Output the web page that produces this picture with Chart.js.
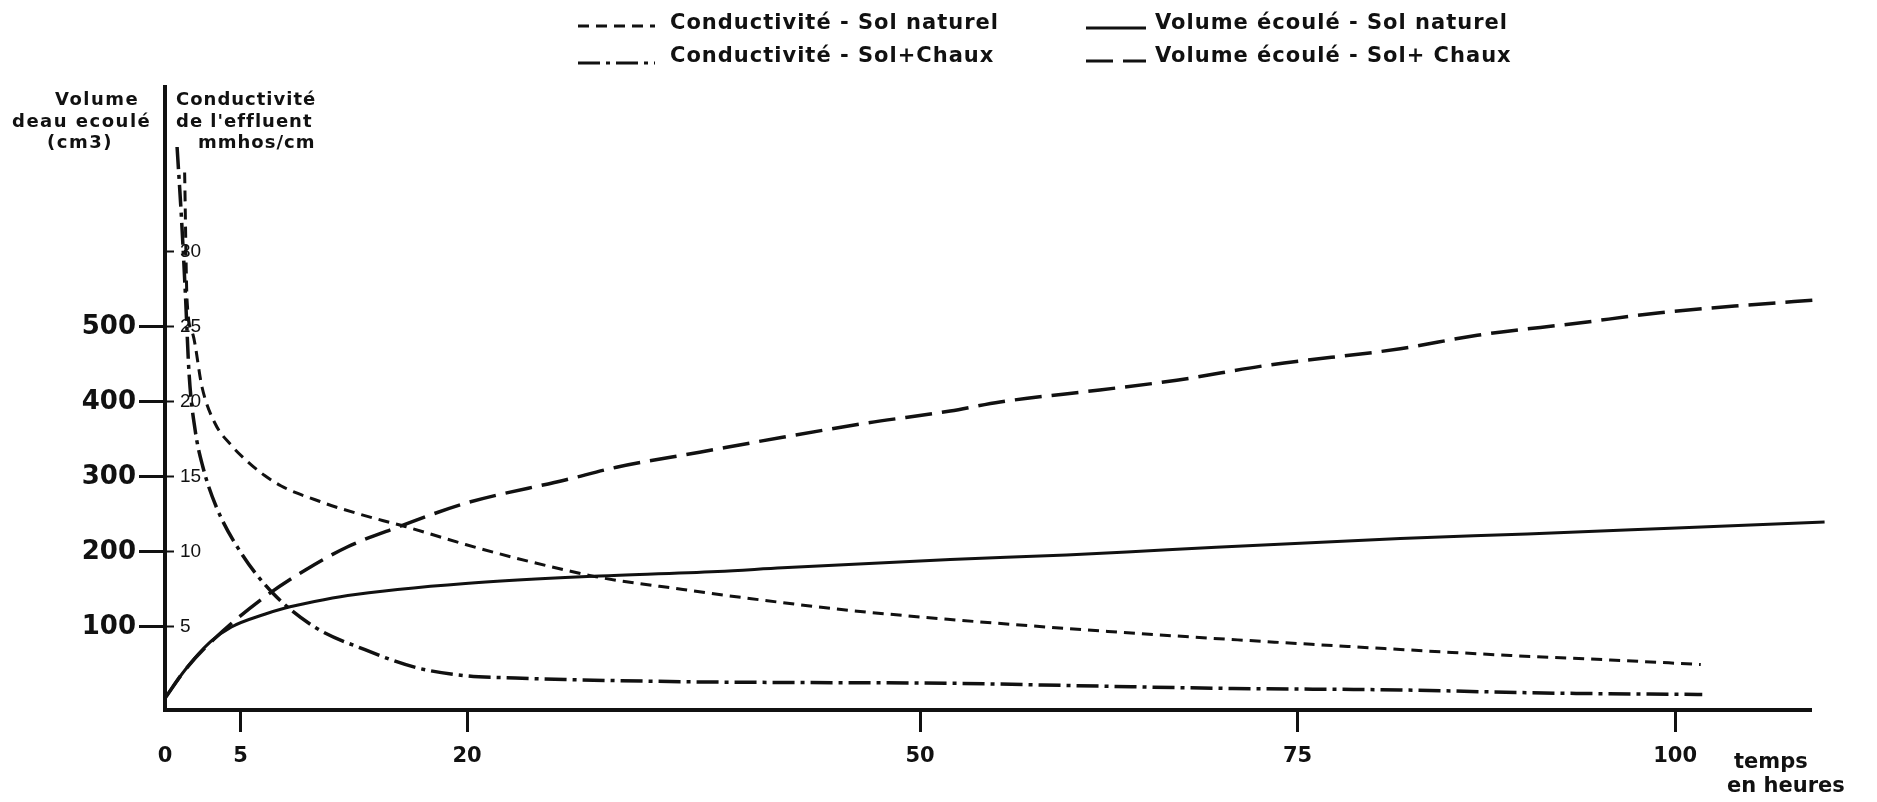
<!DOCTYPE html>
<html>
<head>
<meta charset="utf-8">
<style>
  html, body { margin: 0; padding: 0; background: #fff; }
  canvas { display: block; }
</style>
<script src="https://cdn.jsdelivr.net/npm/chart.js@4.4.1/dist/chart.umd.min.js"></script>
</head>
<body>
<canvas id="graph" width="1877" height="802"></canvas>
<script>
// valeurs (temps en heures)
const tVolNat = [0, 1.3, 3.0, 4.4, 6.6, 7.9, 9.9, 12.1, 15.4, 19.9, 26.5, 28.8, 36.6, 40.9, 52.0, 59.7, 66.4, 81.8, 90.2, 100.1, 109.9];
const volNat  = [5, 42, 80, 100, 117, 125, 134, 142, 150, 158, 166, 168, 174, 179, 190, 196, 203, 218, 224, 232, 240];

const tVolChaux = [0, 1.3, 3.2, 6.6, 9.3, 12.1, 15.4, 19.9, 26.5, 29.9, 35.4, 40.9, 46.5, 52.0, 55.3, 61.9, 67.0, 73.0, 81.8, 86.9, 93.5, 99.0, 104.6, 109.3];
const volChaux  = [5, 42, 83, 140, 176, 207, 233, 265, 296, 313, 333, 353, 372, 388, 400, 416, 429, 449, 471, 489, 505, 519, 529, 536];

const tCondNat = [1.3, 1.46, 1.85, 2.45, 3.3, 4.4, 5.5, 6.6, 7.7, 8.8, 9.9, 11.0, 12.8, 14.4, 15.9, 19.9, 23.2, 26.5, 28.8, 34.3, 38.7, 45.4, 52.0, 59.7, 68.5, 81.8, 89.1, 95.7, 101.7];
const condNat  = [35.3, 26.8, 24.5, 21.0, 18.6, 17.1, 16.0, 15.1, 14.4, 13.9, 13.5, 13.1, 12.55, 12.1, 11.7, 10.5, 9.6, 8.8, 8.3, 7.5, 6.9, 6.1, 5.5, 4.9, 4.3, 3.5, 3.1, 2.8, 2.5];

const tCondChaux = [0.8, 1.1, 1.35, 1.6, 2.0, 2.5, 3.4, 5.0, 7.1, 9.9, 13.2, 16.6, 19.9, 23.2, 26.5, 34.3, 40.9, 52.0, 59.7, 70.7, 81.8, 91.3, 101.8];
const condChaux  = [37.0, 32.1, 27.2, 21.8, 18.1, 15.7, 13.0, 10.0, 7.3, 5.0, 3.5, 2.3, 1.75, 1.6, 1.5, 1.35, 1.3, 1.25, 1.1, 0.9, 0.8, 0.6, 0.5];

// graduations
const xTickValues = [0, 5, 20, 50, 75, 100];
const volTickValues = [100, 200, 300, 400, 500];
const condTickValues = [5, 10, 15, 20, 25, 30];

const INK = '#111';
const pts = (xs, ys) => xs.map((x, i) => ({ x, y: ys[i] }));

function line(label, xs, ys, axis, dash, width) {
    return {
        label,
        data: pts(xs, ys),
        yAxisID: axis,
        borderColor: INK,
        borderWidth: width,
        borderDash: dash,
        pointRadius: 0,
        fill: false,
        clip: false,
        cubicInterpolationMode: 'monotone'
    };
}

// ordre = grille de la légende (2 x 2)
const datasets = [
    line('Conductivité - Sol naturel', tCondNat, condNat, 'y2', [11, 7], 3),
    line('Volume écoulé - Sol naturel', tVolNat, volNat, 'y', [], 3),
    line('Conductivité - Sol+Chaux', tCondChaux, condChaux, 'y2', [22, 6, 4, 6], 3.5),
    line('Volume écoulé - Sol+ Chaux', tVolChaux, volChaux, 'y', [27, 10], 3.5)
];

// légende et titres d'axes
const annotations = {
    id: 'annotations',
    afterDraw(chart) {
        const ctx = chart.ctx;
        const a = chart.chartArea;
        ctx.save();
        ctx.fillStyle = INK;
        ctx.strokeStyle = INK;
        ctx.textBaseline = 'middle';
        ctx.textAlign = 'left';

        // légende
        ctx.font = 'bold 21px "DejaVu Sans"';
        ctx.letterSpacing = '1px';
        const lineX = [578, 1086];
        const lineLen = [77, 60];
        const textX = [670, 1155];
        const rows = [24, 57];
        const lineDy = [[2, 4], [6, 4]];
        chart.data.datasets.forEach((ds, i) => {
            const c = i % 2;
            const r = Math.floor(i / 2);
            const y = rows[r];
            ctx.beginPath();
            ctx.setLineDash(ds.borderDash);
            ctx.lineWidth = 3;
            ctx.moveTo(lineX[c], y + lineDy[r][c]);
            ctx.lineTo(lineX[c] + lineLen[c], y + lineDy[r][c]);
            ctx.stroke();
            ctx.fillText(ds.label, textX[c], y);
        });
        ctx.setLineDash([]);

        // titres des axes verticaux
        ctx.font = 'bold 18px "DejaVu Sans"';
        ctx.letterSpacing = '1.5px';
        ctx.fillText('Volume', a.left - 110, a.top + 13);
        ctx.fillText('deau ecoulé', a.left - 153, a.top + 35);
        ctx.fillText('(cm3)', a.left - 118, a.top + 56);
        ctx.letterSpacing = '1px';
        ctx.fillText('Conductivité', a.left + 11, a.top + 13);
        ctx.fillText("de l'effluent", a.left + 11, a.top + 35);
        ctx.fillText('mmhos/cm', a.left + 33, a.top + 56);

        // titre de l'axe du temps
        ctx.font = 'bold 21px "DejaVu Sans"';
        ctx.letterSpacing = '0px';
        ctx.fillText('temps', a.right - 77, a.bottom + 53);
        ctx.fillText('en heures', a.right - 84, a.bottom + 77);
        ctx.restore();
    }
};

new Chart(document.getElementById('graph'), {
    type: 'line',
    data: { datasets },
    options: {
        responsive: false,
        animation: false,
        layout: { padding: { left: 0, top: 87, right: 66, bottom: 0 } },
        plugins: {
            legend: { display: false },
            tooltip: { enabled: false }
        },
        scales: {
            x: {
                type: 'linear',
                position: 'bottom',
                min: 0,
                max: 109,
                afterBuildTicks: s => { s.ticks = xTickValues.map(v => ({ value: v })); },
                afterFit: s => { s.height = 92; },
                border: { color: INK, width: 4 },
                grid: {
                    drawOnChartArea: false,
                    tickLength: 22,
                    tickWidth: 3,
                    tickColor: c => (c.tick && c.tick.value === 0 ? 'rgba(0,0,0,0)' : INK)
                },
                ticks: {
                    color: INK,
                    padding: 12,
                    maxRotation: 0,
                    font: { family: 'DejaVu Sans', weight: 'bold', size: 21 }
                }
            },
            y: {
                type: 'linear',
                position: 'left',
                weight: 1,
                min: -10.7,
                max: 820,
                afterBuildTicks: s => { s.ticks = volTickValues.map(v => ({ value: v })); },
                afterFit: s => { s.width = 165; },
                border: { color: INK, width: 4 },
                grid: { drawOnChartArea: false, tickLength: 26, tickWidth: 3, tickColor: INK },
                ticks: {
                    color: INK,
                    padding: 3,
                    font: { family: 'DejaVu Sans', weight: 'bold', size: 26 }
                }
            },
            y2: {
                type: 'linear',
                position: 'left',
                weight: 0,
                min: -10.7 / 20,
                max: 41,
                afterBuildTicks: s => { s.ticks = condTickValues.map(v => ({ value: v })); },
                afterFit: s => { s.width = 0; },
                border: { display: false },
                grid: { drawOnChartArea: false, tickLength: -9, tickWidth: 2, tickColor: INK },
                ticks: {
                    mirror: true,
                    color: INK,
                    padding: 15,
                    font: { family: 'Liberation Sans', size: 19 }
                }
            }
        }
    },
    plugins: [annotations]
});
</script>
</body>
</html>
